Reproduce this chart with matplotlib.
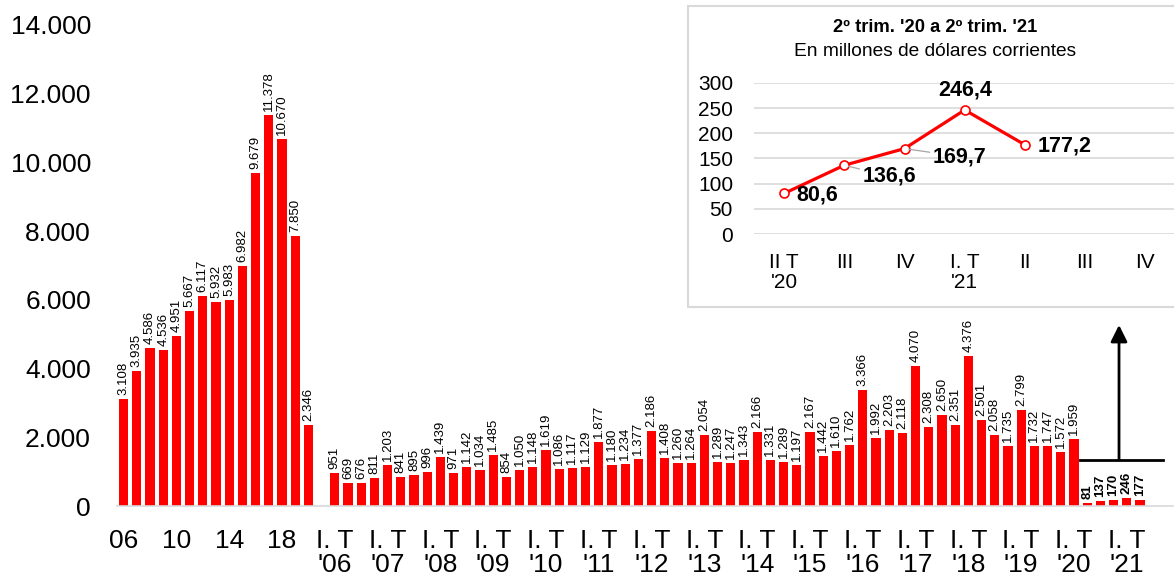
import matplotlib
matplotlib.use('Agg')
import matplotlib.pyplot as plt
from matplotlib.patches import Rectangle
from matplotlib.ticker import FuncFormatter

plt.rcParams['font.family'] = ['Liberation Sans', 'DejaVu Sans']

# ---------------- data ----------------
annual_years = ['06', '07', '08', '09', '10', '11', '12', '13', '14', '15',
                '16', '17', '18', '19', '20']
annual_values = [3108, 3935, 4586, 4536, 4951, 5667, 6117, 5932, 5983, 6982,
                 9679, 11378, 10670, 7850, 2346]
annual_tick_labels = ['06', '10', '14', '18']

quarter_years = ["'06", "'07", "'08", "'09", "'10", "'11", "'12", "'13",
                 "'14", "'15", "'16", "'17", "'18", "'19", "'20", "'21"]
quarter_values = [951, 669, 676, 811,
                  1203, 841, 895, 996,
                  1439, 971, 1142, 1034,
                  1485, 854, 1050, 1148,
                  1619, 1086, 1117, 1129,
                  1877, 1180, 1234, 1377,
                  2186, 1408, 1260, 1264,
                  2054, 1289, 1247, 1343,
                  2166, 1331, 1289, 1197,
                  2167, 1442, 1610, 1762,
                  3366, 1992, 2203, 2118,
                  4070, 2308, 2650, 2351,
                  4376, 2501, 2058, 1735,
                  2799, 1732, 1747, 1572,
                  1959, 80.6, 136.6, 169.7,
                  246.4, 177.2]
n_highlight = 5  # last quarters shown in bold

inset_labels = ["II T\n'20", "III", "IV", "I. T\n'21", "II", "III", "IV"]
inset_values = [80.6, 136.6, 169.7, 246.4, 177.2]
inset_value_labels = ['80,6', '136,6', '169,7', '246,4', '177,2']
inset_title = "2º trim. '20 a 2º trim. '21"
inset_subtitle = "En millones de dólares corrientes"

# ---------------- figure ----------------
W, H = 1174, 582
PX = 72 / 100  # points per pixel
fig = plt.figure(figsize=(W / 100, H / 100), dpi=100)

ax = fig.add_axes([117 / W, (H - 506) / H, (1173 - 117) / W, (506 - 25) / H])

gap = 1
q_start = len(annual_values) + gap
n_slots = q_start + len(quarter_values) + 2
x_annual = list(range(len(annual_values)))
x_quarter = [q_start + i for i in range(len(quarter_values))]

red = '#ff0000'
ax.bar(x_annual, annual_values, width=0.7, color=red, zorder=2)
ax.bar(x_quarter, quarter_values, width=0.7, color=red, zorder=2)


def fmt_thousands(v):
    return f"{int(round(v)):,}".replace(',', '.')


for x, v in zip(x_annual, annual_values):
    ax.annotate(fmt_thousands(v), (x, v), xytext=(0, 4), textcoords='offset pixels',
                rotation=90, ha='center', va='bottom', fontsize=9.5)
for i, (x, v) in enumerate(zip(x_quarter, quarter_values)):
    bold = i >= len(quarter_values) - n_highlight
    ax.annotate(fmt_thousands(v), (x, v), xytext=(0, 4), textcoords='offset pixels',
                rotation=90, ha='center', va='bottom', fontsize=9.5,
                fontweight='bold' if bold else 'normal')

ax.set_xlim(-0.5, n_slots - 0.5)
ax.set_ylim(0, 14000)
ax.set_yticks(range(0, 14001, 2000))
ax.yaxis.set_major_formatter(FuncFormatter(lambda v, p: fmt_thousands(v)))

tick_pos = [x_annual[annual_years.index(t)] for t in annual_tick_labels]
tick_lab = list(annual_tick_labels)
for k, yr in enumerate(quarter_years):
    tick_pos.append(q_start + 4 * k)
    tick_lab.append("I. T\n" + yr)
ax.set_xticks(tick_pos)
ax.set_xticklabels(tick_lab, linespacing=1.02)

ax.tick_params(axis='both', length=0, labelsize=19)
ax.tick_params(axis='x', pad=23 * PX)
ax.tick_params(axis='y', pad=26 * PX)
for s in ['top', 'right', 'left']:
    ax.spines[s].set_visible(False)
ax.spines['bottom'].set_color('#d9d9d9')
ax.spines['bottom'].set_linewidth(1.2)

# annotation bracket and arrow pointing to the inset
bracket_x0, bracket_x1, arrow_x = 72.45, 78.74, 75.41
bracket_y, arrow_top = 1339, 5268
ax.plot([bracket_x0, bracket_x1], [bracket_y, bracket_y], color='black', lw=2,
        clip_on=False, zorder=3)
ax.annotate('', xy=(arrow_x, arrow_top), xytext=(arrow_x, bracket_y),
            arrowprops=dict(arrowstyle='-|>', color='black', lw=2,
                            mutation_scale=25, shrinkA=0, shrinkB=0), zorder=3)

# ---------------- inset ----------------
rect = Rectangle((688 / W, (H - 307) / H), (W - 688) / W + 0.01, (307 - 6) / H,
                 transform=fig.transFigure, facecolor='white', edgecolor='#d9d9d9',
                 lw=1.5, zorder=1)
fig.add_artist(rect)

ax2 = fig.add_axes([754 / W, (H - 234) / H, (W - 754) / W, (234 - 83) / H])
ax2.set_zorder(2)
ax2.patch.set_alpha(0)
xs = list(range(len(inset_values)))
ax2.plot(xs, inset_values, color=red, lw=2.3, marker='o', markersize=6.5,
         markerfacecolor='white', markeredgecolor=red, markeredgewidth=1.2, zorder=3)
ax2.set_xlim(-0.5, -0.5 + (W - 754) / 60.2)
ax2.set_ylim(0, 300)
ax2.set_yticks(range(0, 301, 50))
ax2.set_xticks(range(len(inset_labels)))
ax2.set_xticklabels(inset_labels, linespacing=1.1)
ax2.yaxis.grid(True, color='#d9d9d9', lw=1.2)
ax2.set_axisbelow(True)
ax2.tick_params(axis='both', length=0, labelsize=15)
ax2.tick_params(axis='x', pad=19 * PX)
ax2.tick_params(axis='y', pad=21 * PX)
for s in ax2.spines.values():
    s.set_visible(False)

offsets = [(12, -2, 'left', None), (18, -11, 'left', 'lead'), (28, -8, 'left', 'lead'),
           (0, 20, 'center', None), (13, -1, 'left', None)]
for x, v, lab, (dx, dy, ha, lead) in zip(xs, inset_values, inset_value_labels, offsets):
    props = None
    if lead:
        props = dict(arrowstyle='-', color='#a6a6a6', lw=0.9, shrinkA=0, shrinkB=3)
    ax2.annotate(lab, (x, v), xytext=(dx, dy), textcoords='offset pixels',
                 ha=ha, va='center', fontsize=15.5, fontweight='bold',
                 arrowprops=props, zorder=4)

fig.text(935 / W, 1 - 28 / H, inset_title, ha='center', va='center',
         fontsize=13.2, fontweight='bold', zorder=3)
fig.text(935 / W, 1 - 52 / H, inset_subtitle, ha='center', va='center',
         fontsize=13.8, zorder=3)

fig.savefig('out.png', dpi=100)
